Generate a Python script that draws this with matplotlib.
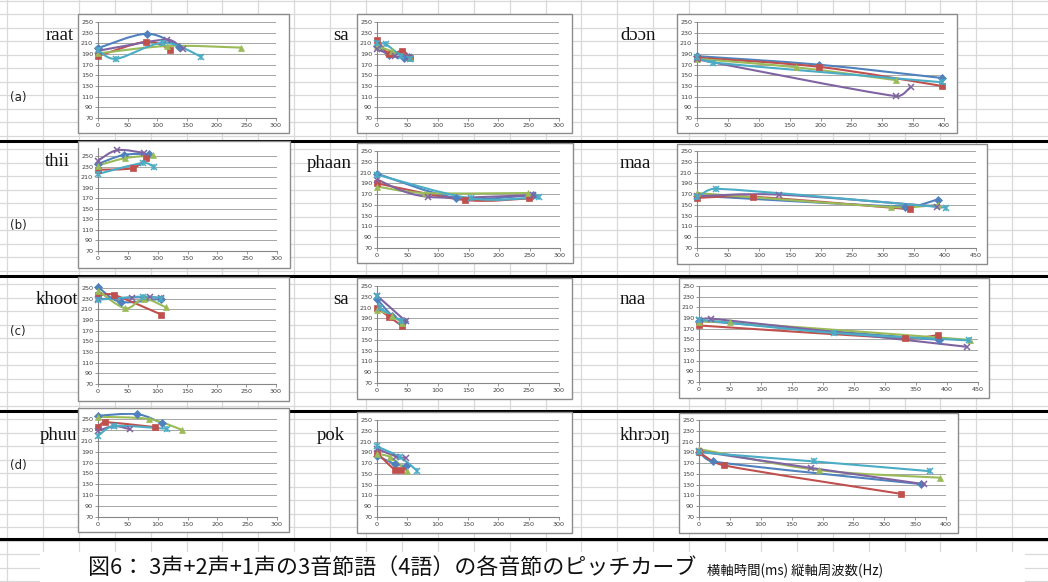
import numpy as np
import matplotlib
matplotlib.use('Agg')
import matplotlib.pyplot as plt
from matplotlib.path import Path
from matplotlib.patches import PathPatch, Rectangle

# ---------------- data (time ms, frequency Hz), series order: blue, red, green, purple, cyan
raat_t = [[0, 82, 137], [0, 81, 122], [0, 117, 241], [0, 116, 143], [0, 31, 110, 174]]
raat_f = [[201, 228, 204], [186, 213, 198], [191, 205, 202], [196, 217, 199], [197, 181, 211, 185]]

sa1_t = [[0, 20, 45, 52], [0, 20, 42, 55], [0, 25, 55], [0, 30, 52], [0, 15, 40, 55]]
sa1_f = [[205, 188, 183, 184], [217, 190, 196, 182], [205, 195, 183], [199, 186, 185], [210, 208, 186, 181]]

doon_t = [[0, 197, 397], [0, 197, 397], [0, 161, 322], [0, 322, 346], [0, 26, 397]]
doon_f = [[186, 170, 145], [183, 166, 130], [181, 165, 141], [180, 111, 128], [184, 174, 137]]

thii_t = [[0, 43, 86], [0, 58, 81], [0, 46, 92], [0, 32, 77], [0, 76, 94]]
thii_f = [[235, 252, 254], [224, 227, 246], [232, 246, 251], [241, 261, 256], [216, 237, 229]]

phaan_t = [[0, 130, 255], [0, 144, 249], [0, 78, 248], [0, 83, 255], [0, 154, 266]]
phaan_f = [[208, 163, 168], [190, 159, 162], [184, 172, 172], [197, 165, 168], [206, 162, 164]]

maa_t = [[0, 335, 388], [0, 91, 343], [0, 313, 389], [0, 133, 387], [0, 31, 401]]
maa_f = [[167, 147, 160], [163, 165, 142], [172, 146, 150], [166, 169, 147], [164, 180, 145]]

khoot_t = [[0, 38, 107], [0, 27, 107], [0, 46, 77, 114], [0, 57, 88, 107], [0, 76, 107]]
khoot_f = [[252, 224, 230], [236, 237, 200], [245, 212, 230, 214], [229, 232, 233, 231], [228, 234, 230]]

sa2_t = [[0, 25, 45], [0, 20, 41], [0, 25, 42], [0, 47], [0, 5, 40]]
sa2_f = [[226, 195, 185], [209, 193, 176], [206, 195, 181], [232, 185], [231, 210, 185]]

naa_t = [[0, 387], [0, 333, 386], [0, 50, 437], [0, 19, 432], [0, 217, 435]]
naa_f = [[185, 149], [176, 152, 158], [183, 182, 149], [187, 189, 136], [187, 162, 148]]

phuu_t = [[0, 65, 108], [0, 12, 96], [0, 85, 141], [0, 27, 54], [0, 27, 116]]
phuu_f = [[256, 259, 242], [236, 244, 235], [254, 250, 230], [228, 237, 231], [219, 237, 232]]

pok_t = [[0, 30, 47], [0, 29, 40], [0, 22, 49], [0, 32, 47], [0, 38, 66]]
pok_f = [[184, 168, 165], [189, 158, 158], [187, 181, 156], [197, 182, 180], [201, 181, 156]]

khroong_t = [[0, 22, 360], [0, 40, 327], [0, 194, 390], [0, 182, 364], [0, 187, 374]]
khroong_f = [[190, 173, 131], [190, 166, 113], [196, 157, 143], [192, 161, 131], [190, 173, 155]]

words = ['raat', 'sa', 'dɔɔn', 'thii', 'phaan', 'maa', 'khoot', 'sa', 'naa', 'phuu', 'pok', 'khrɔɔŋ']
row_labels = ['(a)', '(b)', '(c)', '(d)']
title_main = '図6： 3声+2声+1声の3音節語（4語）の各音節のピッチカーブ'
title_sub = '横軸時間(ms) 縦軸周波数(Hz)'
y_ticks = [70, 90, 110, 130, 150, 170, 190, 210, 230, 250]

# ---------------- styling / layout
W, H = 1048, 582
COLORS = ['#4F81BD', '#C0504D', '#9BBB59', '#8064A2', '#4BACC6']
MARKERS = ['D', 's', '^', 'x', 'star']

fig = plt.figure(figsize=(W / 100, H / 100), dpi=100)

# spreadsheet background
bg = fig.add_axes([0, 0, 1, 1])
bg.set_xlim(0, W)
bg.set_ylim(H, 0)
bg.axis('off')
grid_c = '#d9d9d9'
for xv in np.arange(7, W, 35.9):
    bg.plot([xv, xv], [0, H], color=grid_c, lw=0.9, zorder=0)
for yv in np.arange(0.5, H, 13.5):
    bg.plot([0, W], [yv, yv], color=grid_c, lw=0.9, zorder=0)
for yv in [140.5, 275.5, 410.5, 538.5]:
    bg.plot([0, W], [yv, yv], color='black', lw=2.2, zorder=1)

row_y = [97, 225, 332, 466]
for lab, yv in zip(row_labels, row_y):
    bg.text(10, yv, lab, fontsize=8.5, family='DejaVu Sans', va='center', ha='left', color='#222222')

# title strip
bg.add_patch(Rectangle((40, 552), 985, 30, facecolor='white', edgecolor='none', zorder=2))
bg.text(88, 568, title_main, fontsize=15.8, family=['Noto Sans CJK JP', 'DejaVu Sans'],
        va='center', ha='left', color='#111111', zorder=3)
bg.text(707, 571, title_sub, fontsize=9.6, family=['Noto Sans CJK JP', 'DejaVu Sans'],
        va='center', ha='left', color='#111111', zorder=3)


def fx(px):
    return px / W


def fy(py):
    return 1 - py / H


def smooth_path(xs, ys):
    xs = np.asarray(xs, float)
    ys = np.asarray(ys, float)
    n = len(xs)
    verts = [(xs[0], ys[0])]
    codes = [Path.MOVETO]
    if n == 2:
        verts.append((xs[1], ys[1]))
        codes.append(Path.LINETO)
        return Path(verts, codes)
    for i in range(n - 1):
        p0 = np.array([xs[max(i - 1, 0)], ys[max(i - 1, 0)]])
        p1 = np.array([xs[i], ys[i]])
        p2 = np.array([xs[i + 1], ys[i + 1]])
        p3 = np.array([xs[min(i + 2, n - 1)], ys[min(i + 2, n - 1)]])
        dx = p2[0] - p1[0]
        d1 = (p2 - p0) / 6.0
        d2 = (p3 - p1) / 6.0
        lim = dx / 2.0
        if abs(d1[0]) > lim > 0:
            d1 = d1 * lim / abs(d1[0])
        if abs(d2[0]) > lim > 0:
            d2 = d2 * lim / abs(d2[0])
        c1 = p1 + d1
        c2 = p2 - d2
        verts += [tuple(c1), tuple(c2), tuple(p2)]
        codes += [Path.CURVE4] * 3
    return Path(verts, codes)


charts = [
    # box (l, t, r, b), plot x0, x1, y70, y250, ymax, xmax, label pos, data
    ((78, 14, 289, 133), 98, 276, 118, 22, 250, 300, (46, 36), raat_t, raat_f),
    ((357, 14, 572, 133), 377, 559, 118, 22, 250, 300, (333, 36), sa1_t, sa1_f),
    ((677, 14, 957, 133), 697, 944, 118, 22, 250, 400, (620, 36), doon_t, doon_f),
    ((78, 141, 290, 268), 98, 277, 251, 156, 265, 300, (45, 161), thii_t, thii_f),
    ((357, 143, 573, 263), 377, 560, 248, 151, 250, 300, (307, 163), phaan_t, phaan_f),
    ((677, 144, 987, 264), 697, 976, 248, 151, 250, 450, (620, 163), maa_t, maa_f),
    ((78, 277, 289, 401), 98, 276, 384, 288, 260, 300, (36, 299), khoot_t, khoot_f),
    ((357, 278, 572, 399), 377, 559, 383, 286, 250, 300, (333, 299), sa2_t, sa2_f),
    ((679, 278, 989, 398), 699, 978, 382, 286, 250, 450, (620, 299), naa_t, naa_f),
    ((78, 408, 289, 532), 98, 277, 517, 419, 261, 300, (40, 435), phuu_t, phuu_f),
    ((357, 412, 572, 533), 377, 559, 517, 420, 250, 300, (317, 435), pok_t, pok_f),
    ((679, 413, 958, 533), 699, 946, 517, 420, 250, 400, (620, 435), khroong_t, khroong_f),
]

for k, (box, x0, x1, y70, y250, ymax, xmax, lpos, ts, fs) in enumerate(charts):
    l, t, r, b = box
    bg.add_patch(Rectangle((l, t), r - l, b - t, facecolor='white', edgecolor='#8c8c8c',
                           lw=1.0, zorder=4))
    bg.text(lpos[0], lpos[1], words[k], fontsize=13.5, family=['Liberation Serif', 'DejaVu Serif'],
            va='center', ha='left', color='#111111', zorder=5)
    ppu = (y70 - y250) / 180.0
    ytop = y250 - (ymax - 250) * ppu
    ax = fig.add_axes([fx(x0), fy(y70), fx(x1) - fx(x0), (y70 - ytop) / H])
    ax.set_xlim(0, xmax)
    ax.set_ylim(70, ymax)
    ax.patch.set_alpha(0)
    ax.set_zorder(10)
    for s in ['top', 'right']:
        ax.spines[s].set_visible(False)
    for s in ['left', 'bottom']:
        ax.spines[s].set_color('#868686')
        ax.spines[s].set_linewidth(0.8)
    ax.set_xticks(np.arange(0, xmax + 1, 50))
    ax.set_yticks(y_ticks)
    ax.tick_params(axis='both', labelsize=4.6, length=2, width=0.6, color='#868686',
                   labelcolor='#404040', pad=1.5)
    for yv in y_ticks[1:]:
        ax.axhline(yv, color='#a6a6a6', lw=0.7, zorder=1)
    for i in range(5):
        c = COLORS[i]
        path = smooth_path(ts[i], fs[i])
        ax.add_patch(PathPatch(path, facecolor='none', edgecolor=c, lw=1.5, zorder=3 + i * 0.1,
                               capstyle='round', joinstyle='round'))
        m = MARKERS[i]
        if m == 'star':
            ax.plot(ts[i], fs[i], ls='none', marker='x', ms=4.5, mew=1.1, color=c, zorder=4 + i * 0.1, clip_on=False)
            ax.plot(ts[i], fs[i], ls='none', marker='|', ms=4.5, mew=1.1, color=c, zorder=4 + i * 0.1, clip_on=False)
        elif m == 'x':
            ax.plot(ts[i], fs[i], ls='none', marker='x', ms=4.5, mew=1.1, color=c, zorder=4 + i * 0.1, clip_on=False)
        else:
            ms = {'D': 3.8, 's': 4.5, '^': 5}[m]
            ax.plot(ts[i], fs[i], ls='none', marker=m, ms=ms, mew=0.5, color=c, mec=c,
                    zorder=4 + i * 0.1, clip_on=False)

fig.savefig('out.png', dpi=100)
